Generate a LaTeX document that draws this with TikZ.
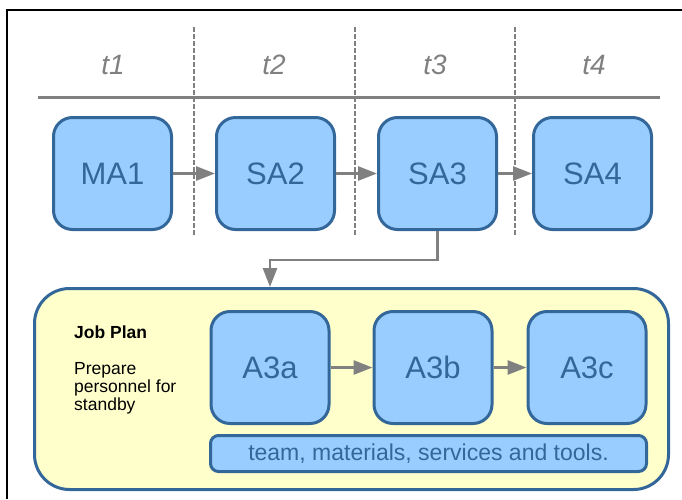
\documentclass[tikz,border=0pt]{standalone}
\usepackage{fontspec}
\setmainfont{Liberation Sans}
\usepackage{xcolor}
\definecolor{boxblue}{HTML}{99CCFF}
\definecolor{edgeblue}{HTML}{336699}
\definecolor{planyellow}{HTML}{FFFFCC}
\definecolor{linegray}{HTML}{808080}
\usepackage{tikz}
\usetikzlibrary{arrows.meta,positioning}

\begin{document}
\begin{tikzpicture}[x=1pt,y=-1pt,
  actbox/.style={draw=edgeblue,fill=boxblue,line width=3pt,rounded corners=19pt,minimum width=118pt,minimum height=112pt,text=edgeblue,font=\fontsize{31}{34}\selectfont},
  period/.style={text=linegray,font=\fontsize{28}{30}\selectfont\itshape},
  arr/.style={-{Triangle[length=19pt,width=14pt]},draw=linegray,line width=2.8pt},
  sep/.style={draw=linegray,line width=2.4pt,dash pattern=on 4.5pt off 2.5pt}]
\useasboundingbox (0,0) rectangle (682,499);
\draw[line width=1.2pt] (7,499) -- (7,10) -- (682,10);
% time periods
\node[period] (t1) at (113,65) {t1};
\node[period] (t2) at (274,65) {t2};
\node[period] (t3) at (435,65) {t3};
\node[period] (t4) at (594,65) {t4};
\draw[linegray,line width=3pt] (38,97) -- (660,97);
\draw[sep] (194,27) -- (194,235);
\draw[sep] (355,27) -- (355,235);
\draw[sep] (515,27) -- (515,235);
% activities
\node[actbox] (MA1) at (112.5,173.5) {MA1};
\node[actbox,right=42pt of MA1] (SA2) {SA2};
\node[actbox,right=41pt of SA2] (SA3) {SA3};
\node[actbox,right=34pt of SA3] (SA4) {SA4};
\draw[arr] (MA1)--(SA2);
\draw[arr] (SA2)--(SA3);
\draw[arr] (SA3)--(SA4);
% job plan
\node[draw=edgeblue,fill=planyellow,line width=3pt,rounded corners=35pt,minimum width=634pt,minimum height=201pt] (plan) at (351.5,389) {};
\node[anchor=north west,inner sep=0pt,align=left,font=\fontsize{17.5}{18}\selectfont] (note) at (74,326) {\textbf{Job Plan}\\[18pt]Prepare\\personnel for\\standby};
\node[actbox] (A3a) at (270,367.5) {A3a};
\node[actbox,right=42pt of A3a] (A3b) {A3b};
\node[actbox,right=33pt of A3b] (A3c) {A3c};
\node[actbox,rounded corners=8pt,minimum width=436pt,minimum height=36pt,font=\fontsize{23}{25}\selectfont] (res) at (428.5,453.5) {team, materials, services and tools.};
\draw[arr] (A3a)--(A3b);
\draw[arr] (A3b)--(A3c);
\draw[arr] (SA3.south) -- ++(0,29) -| (plan.north -| A3a);
\end{tikzpicture}
\end{document}
